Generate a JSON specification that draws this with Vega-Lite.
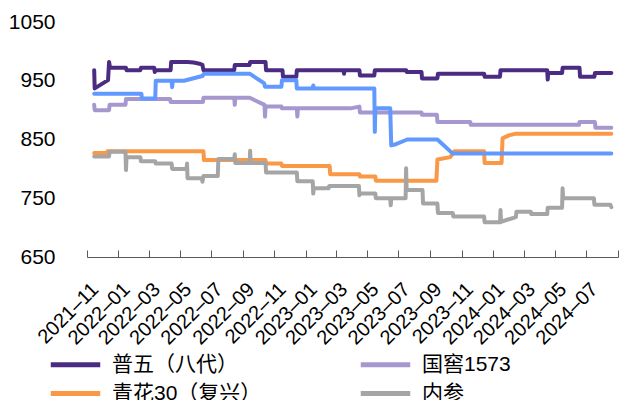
{
  "$schema": "https://vega.github.io/schema/vega-lite/v6.json",
  "width": 531,
  "height": 235,
  "padding": {"left": 8, "top": 11, "right": 0, "bottom": 0},
  "background": "white",
  "config": {
    "view": {"stroke": null},
    "font": "Liberation Sans, Noto Sans CJK SC",
    "axis": {"labelFont": "Liberation Sans, Noto Sans CJK SC", "labelColor": "#000000"},
    "legend": {"labelFont": "Liberation Sans, Noto Sans CJK SC", "labelColor": "#000000"}
  },
  "data": {
    "values": [
      {"s": "普五（八代）", "d": "2021-11-15", "v": 968},
      {"s": "普五（八代）", "d": "2021-11-16", "v": 937},
      {"s": "普五（八代）", "d": "2021-12-12", "v": 951},
      {"s": "普五（八代）", "d": "2021-12-14", "v": 982},
      {"s": "普五（八代）", "d": "2021-12-16", "v": 972},
      {"s": "普五（八代）", "d": "2022-01-16", "v": 972},
      {"s": "普五（八代）", "d": "2022-01-17", "v": 968},
      {"s": "普五（八代）", "d": "2022-02-13", "v": 968},
      {"s": "普五（八代）", "d": "2022-02-14", "v": 972},
      {"s": "普五（八代）", "d": "2022-03-12", "v": 972},
      {"s": "普五（八代）", "d": "2022-03-13", "v": 965},
      {"s": "普五（八代）", "d": "2022-03-15", "v": 968},
      {"s": "普五（八代）", "d": "2022-04-13", "v": 968},
      {"s": "普五（八代）", "d": "2022-04-14", "v": 982},
      {"s": "普五（八代）", "d": "2022-05-16", "v": 982},
      {"s": "普五（八代）", "d": "2022-05-28", "v": 981},
      {"s": "普五（八代）", "d": "2022-06-08", "v": 979},
      {"s": "普五（八代）", "d": "2022-06-14", "v": 977},
      {"s": "普五（八代）", "d": "2022-06-16", "v": 968},
      {"s": "普五（八代）", "d": "2022-08-15", "v": 968},
      {"s": "普五（八代）", "d": "2022-08-16", "v": 977},
      {"s": "普五（八代）", "d": "2022-09-14", "v": 977},
      {"s": "普五（八代）", "d": "2022-09-15", "v": 982},
      {"s": "普五（八代）", "d": "2022-10-15", "v": 982},
      {"s": "普五（八代）", "d": "2022-10-16", "v": 968},
      {"s": "普五（八代）", "d": "2022-11-17", "v": 968},
      {"s": "普五（八代）", "d": "2022-11-18", "v": 957},
      {"s": "普五（八代）", "d": "2022-12-14", "v": 957},
      {"s": "普五（八代）", "d": "2022-12-15", "v": 968},
      {"s": "普五（八代）", "d": "2023-03-16", "v": 968},
      {"s": "普五（八代）", "d": "2023-03-17", "v": 962},
      {"s": "普五（八代）", "d": "2023-03-18", "v": 968},
      {"s": "普五（八代）", "d": "2023-04-16", "v": 968},
      {"s": "普五（八代）", "d": "2023-04-17", "v": 959},
      {"s": "普五（八代）", "d": "2023-05-15", "v": 959},
      {"s": "普五（八代）", "d": "2023-05-16", "v": 968},
      {"s": "普五（八代）", "d": "2023-07-16", "v": 968},
      {"s": "普五（八代）", "d": "2023-07-17", "v": 965},
      {"s": "普五（八代）", "d": "2023-08-15", "v": 965},
      {"s": "普五（八代）", "d": "2023-08-16", "v": 954},
      {"s": "普五（八代）", "d": "2023-09-15", "v": 954},
      {"s": "普五（八代）", "d": "2023-09-16", "v": 962},
      {"s": "普五（八代）", "d": "2023-12-15", "v": 962},
      {"s": "普五（八代）", "d": "2023-12-16", "v": 957},
      {"s": "普五（八代）", "d": "2024-01-15", "v": 957},
      {"s": "普五（八代）", "d": "2024-01-16", "v": 968},
      {"s": "普五（八代）", "d": "2024-04-16", "v": 968},
      {"s": "普五（八代）", "d": "2024-04-17", "v": 952},
      {"s": "普五（八代）", "d": "2024-04-18", "v": 963},
      {"s": "普五（八代）", "d": "2024-05-15", "v": 963},
      {"s": "普五（八代）", "d": "2024-05-16", "v": 972},
      {"s": "普五（八代）", "d": "2024-06-18", "v": 972},
      {"s": "普五（八代）", "d": "2024-06-19", "v": 957},
      {"s": "普五（八代）", "d": "2024-07-17", "v": 957},
      {"s": "普五（八代）", "d": "2024-07-18", "v": 963},
      {"s": "普五（八代）", "d": "2024-08-19", "v": 963},

      {"s": "国窖1573", "d": "2021-11-15", "v": 909},
      {"s": "国窖1573", "d": "2021-11-16", "v": 900},
      {"s": "国窖1573", "d": "2021-12-14", "v": 900},
      {"s": "国窖1573", "d": "2021-12-15", "v": 909},
      {"s": "国窖1573", "d": "2022-01-15", "v": 909},
      {"s": "国窖1573", "d": "2022-01-16", "v": 919},
      {"s": "国窖1573", "d": "2022-04-12", "v": 919},
      {"s": "国窖1573", "d": "2022-04-13", "v": 914},
      {"s": "国窖1573", "d": "2022-06-15", "v": 914},
      {"s": "国窖1573", "d": "2022-06-16", "v": 921},
      {"s": "国窖1573", "d": "2022-08-15", "v": 921},
      {"s": "国窖1573", "d": "2022-08-16", "v": 909},
      {"s": "国窖1573", "d": "2022-08-17", "v": 921},
      {"s": "国窖1573", "d": "2022-09-14", "v": 921},
      {"s": "国窖1573", "d": "2022-10-13", "v": 909},
      {"s": "国窖1573", "d": "2022-10-14", "v": 889},
      {"s": "国窖1573", "d": "2022-10-15", "v": 906},
      {"s": "国窖1573", "d": "2022-11-15", "v": 906},
      {"s": "国窖1573", "d": "2022-11-16", "v": 903},
      {"s": "国窖1573", "d": "2022-12-15", "v": 903},
      {"s": "国窖1573", "d": "2022-12-16", "v": 889},
      {"s": "国窖1573", "d": "2022-12-17", "v": 903},
      {"s": "国窖1573", "d": "2023-03-30", "v": 903},
      {"s": "国窖1573", "d": "2023-04-16", "v": 906},
      {"s": "国窖1573", "d": "2023-04-17", "v": 896},
      {"s": "国窖1573", "d": "2023-08-15", "v": 896},
      {"s": "国窖1573", "d": "2023-08-16", "v": 892},
      {"s": "国窖1573", "d": "2023-09-14", "v": 892},
      {"s": "国窖1573", "d": "2023-09-15", "v": 880},
      {"s": "国窖1573", "d": "2023-11-18", "v": 880},
      {"s": "国窖1573", "d": "2023-11-19", "v": 875},
      {"s": "国窖1573", "d": "2024-06-17", "v": 875},
      {"s": "国窖1573", "d": "2024-06-18", "v": 880},
      {"s": "国窖1573", "d": "2024-07-18", "v": 880},
      {"s": "国窖1573", "d": "2024-07-19", "v": 870},
      {"s": "国窖1573", "d": "2024-08-19", "v": 870},

      {"s": "青花30（复兴）", "d": "2021-11-15", "v": 827},
      {"s": "青花30（复兴）", "d": "2021-12-10", "v": 827},
      {"s": "青花30（复兴）", "d": "2021-12-11", "v": 830},
      {"s": "青花30（复兴）", "d": "2022-06-16", "v": 830},
      {"s": "青花30（复兴）", "d": "2022-06-17", "v": 815},
      {"s": "青花30（复兴）", "d": "2022-10-15", "v": 815},
      {"s": "青花30（复兴）", "d": "2022-10-16", "v": 809},
      {"s": "青花30（复兴）", "d": "2022-11-15", "v": 809},
      {"s": "青花30（复兴）", "d": "2022-11-16", "v": 805},
      {"s": "青花30（复兴）", "d": "2023-02-17", "v": 805},
      {"s": "青花30（复兴）", "d": "2023-02-18", "v": 791},
      {"s": "青花30（复兴）", "d": "2023-04-16", "v": 791},
      {"s": "青花30（复兴）", "d": "2023-04-17", "v": 787},
      {"s": "青花30（复兴）", "d": "2023-05-17", "v": 787},
      {"s": "青花30（复兴）", "d": "2023-05-18", "v": 780},
      {"s": "青花30（复兴）", "d": "2023-09-13", "v": 780},
      {"s": "青花30（复兴）", "d": "2023-09-15", "v": 816},
      {"s": "青花30（复兴）", "d": "2023-10-10", "v": 820},
      {"s": "青花30（复兴）", "d": "2023-10-18", "v": 830},
      {"s": "青花30（复兴）", "d": "2023-12-15", "v": 830},
      {"s": "青花30（复兴）", "d": "2023-12-16", "v": 810},
      {"s": "青花30（复兴）", "d": "2024-01-18", "v": 810},
      {"s": "青花30（复兴）", "d": "2024-01-20", "v": 852},
      {"s": "青花30（复兴）", "d": "2024-02-01", "v": 857},
      {"s": "青花30（复兴）", "d": "2024-02-15", "v": 860},
      {"s": "青花30（复兴）", "d": "2024-08-19", "v": 860},

      {"s": "内参", "d": "2021-11-15", "v": 821},
      {"s": "内参", "d": "2021-12-14", "v": 821},
      {"s": "内参", "d": "2021-12-15", "v": 829},
      {"s": "内参", "d": "2022-01-15", "v": 829},
      {"s": "内参", "d": "2022-01-16", "v": 798},
      {"s": "内参", "d": "2022-01-17", "v": 820},
      {"s": "内参", "d": "2022-02-13", "v": 820},
      {"s": "内参", "d": "2022-02-14", "v": 813},
      {"s": "内参", "d": "2022-03-14", "v": 813},
      {"s": "内参", "d": "2022-03-15", "v": 809},
      {"s": "内参", "d": "2022-04-15", "v": 809},
      {"s": "内参", "d": "2022-04-16", "v": 800},
      {"s": "内参", "d": "2022-05-14", "v": 800},
      {"s": "内参", "d": "2022-05-15", "v": 809},
      {"s": "内参", "d": "2022-05-16", "v": 784},
      {"s": "内参", "d": "2022-06-13", "v": 784},
      {"s": "内参", "d": "2022-06-14", "v": 778},
      {"s": "内参", "d": "2022-06-16", "v": 788},
      {"s": "内参", "d": "2022-07-14", "v": 788},
      {"s": "内参", "d": "2022-07-15", "v": 817},
      {"s": "内参", "d": "2022-08-15", "v": 817},
      {"s": "内参", "d": "2022-08-16", "v": 825},
      {"s": "内参", "d": "2022-08-17", "v": 810},
      {"s": "内参", "d": "2022-09-14", "v": 810},
      {"s": "内参", "d": "2022-09-15", "v": 831},
      {"s": "内参", "d": "2022-09-16", "v": 810},
      {"s": "内参", "d": "2022-10-15", "v": 810},
      {"s": "内参", "d": "2022-10-16", "v": 794},
      {"s": "内参", "d": "2022-12-15", "v": 794},
      {"s": "内参", "d": "2022-12-16", "v": 779},
      {"s": "内参", "d": "2023-01-15", "v": 779},
      {"s": "内参", "d": "2023-01-16", "v": 758},
      {"s": "内参", "d": "2023-01-17", "v": 767},
      {"s": "内参", "d": "2023-02-15", "v": 767},
      {"s": "内参", "d": "2023-02-16", "v": 771},
      {"s": "内参", "d": "2023-04-15", "v": 771},
      {"s": "内参", "d": "2023-04-16", "v": 755},
      {"s": "内参", "d": "2023-04-17", "v": 758},
      {"s": "内参", "d": "2023-05-17", "v": 758},
      {"s": "内参", "d": "2023-05-18", "v": 750},
      {"s": "内参", "d": "2023-06-15", "v": 750},
      {"s": "内参", "d": "2023-06-16", "v": 738},
      {"s": "内参", "d": "2023-06-17", "v": 750},
      {"s": "内参", "d": "2023-07-15", "v": 750},
      {"s": "内参", "d": "2023-07-16", "v": 801},
      {"s": "内参", "d": "2023-07-17", "v": 764},
      {"s": "内参", "d": "2023-08-17", "v": 764},
      {"s": "内参", "d": "2023-08-18", "v": 741},
      {"s": "内参", "d": "2023-09-15", "v": 741},
      {"s": "内参", "d": "2023-09-16", "v": 725},
      {"s": "内参", "d": "2023-10-15", "v": 725},
      {"s": "内参", "d": "2023-10-16", "v": 719},
      {"s": "内参", "d": "2023-12-15", "v": 719},
      {"s": "内参", "d": "2023-12-16", "v": 709},
      {"s": "内参", "d": "2024-01-15", "v": 709},
      {"s": "内参", "d": "2024-01-16", "v": 730},
      {"s": "内参", "d": "2024-01-17", "v": 710},
      {"s": "内参", "d": "2024-02-15", "v": 718},
      {"s": "内参", "d": "2024-02-16", "v": 727},
      {"s": "内参", "d": "2024-03-15", "v": 727},
      {"s": "内参", "d": "2024-03-16", "v": 723},
      {"s": "内参", "d": "2024-04-16", "v": 723},
      {"s": "内参", "d": "2024-04-17", "v": 734},
      {"s": "内参", "d": "2024-05-15", "v": 734},
      {"s": "内参", "d": "2024-05-16", "v": 767},
      {"s": "内参", "d": "2024-05-17", "v": 750},
      {"s": "内参", "d": "2024-07-16", "v": 750},
      {"s": "内参", "d": "2024-07-17", "v": 739},
      {"s": "内参", "d": "2024-08-17", "v": 739},
      {"s": "内参", "d": "2024-08-19", "v": 735},

      {"s": "青花郎", "d": "2021-11-15", "v": 928},
      {"s": "青花郎", "d": "2022-02-15", "v": 928},
      {"s": "青花郎", "d": "2022-02-16", "v": 920},
      {"s": "青花郎", "d": "2022-03-14", "v": 920},
      {"s": "青花郎", "d": "2022-03-15", "v": 950},
      {"s": "青花郎", "d": "2022-04-15", "v": 950},
      {"s": "青花郎", "d": "2022-04-16", "v": 939},
      {"s": "青花郎", "d": "2022-04-17", "v": 950},
      {"s": "青花郎", "d": "2022-05-09", "v": 950},
      {"s": "青花郎", "d": "2022-06-14", "v": 958},
      {"s": "青花郎", "d": "2022-06-17", "v": 962},
      {"s": "青花郎", "d": "2022-09-14", "v": 962},
      {"s": "青花郎", "d": "2022-10-12", "v": 946},
      {"s": "青花郎", "d": "2022-10-14", "v": 940},
      {"s": "青花郎", "d": "2022-11-15", "v": 940},
      {"s": "青花郎", "d": "2022-11-16", "v": 951},
      {"s": "青花郎", "d": "2022-12-14", "v": 951},
      {"s": "青花郎", "d": "2022-12-15", "v": 937},
      {"s": "青花郎", "d": "2023-01-15", "v": 937},
      {"s": "青花郎", "d": "2023-01-16", "v": 942},
      {"s": "青花郎", "d": "2023-01-17", "v": 937},
      {"s": "青花郎", "d": "2023-05-15", "v": 937},
      {"s": "青花郎", "d": "2023-05-16", "v": 863},
      {"s": "青花郎", "d": "2023-05-17", "v": 903},
      {"s": "青花郎", "d": "2023-06-15", "v": 903},
      {"s": "青花郎", "d": "2023-06-17", "v": 840},
      {"s": "青花郎", "d": "2023-06-26", "v": 842},
      {"s": "青花郎", "d": "2023-07-10", "v": 847},
      {"s": "青花郎", "d": "2023-07-18", "v": 850},
      {"s": "青花郎", "d": "2023-09-15", "v": 850},
      {"s": "青花郎", "d": "2023-10-15", "v": 826},
      {"s": "青花郎", "d": "2024-08-19", "v": 826}
    ]
  },
  "mark": {"type": "line", "strokeWidth": 4, "strokeCap": "round", "strokeJoin": "round", "interpolate": "linear"},
  "encoding": {
    "x": {
      "field": "d",
      "type": "temporal",
      "scale": {
        "domain": [{"year": 2021, "month": 11, "date": 1}, {"year": 2024, "month": 9, "date": 1}],
        "nice": false
      },
      "axis": {
        "title": null,
        "grid": false,
        "values": [
          {"year": 2021, "month": 11, "date": 1},
          {"year": 2022, "month": 1, "date": 1},
          {"year": 2022, "month": 3, "date": 1},
          {"year": 2022, "month": 5, "date": 1},
          {"year": 2022, "month": 7, "date": 1},
          {"year": 2022, "month": 9, "date": 1},
          {"year": 2022, "month": 11, "date": 1},
          {"year": 2023, "month": 1, "date": 1},
          {"year": 2023, "month": 3, "date": 1},
          {"year": 2023, "month": 5, "date": 1},
          {"year": 2023, "month": 7, "date": 1},
          {"year": 2023, "month": 9, "date": 1},
          {"year": 2023, "month": 11, "date": 1},
          {"year": 2024, "month": 1, "date": 1},
          {"year": 2024, "month": 3, "date": 1},
          {"year": 2024, "month": 5, "date": 1},
          {"year": 2024, "month": 7, "date": 1},
          {"year": 2024, "month": 9, "date": 1}
        ],
        "labelExpr": "datum.value >= datetime(2024, 7, 15) ? '' : timeFormat(datum.value, '%Y–%m')",
        "labelAngle": -45,
        "labelAlign": "right",
        "labelBaseline": "middle",
        "labelFontSize": 20,
        "labelOffset": 8,
        "labelPadding": 36,
        "labelOverlap": false,
        "labelBound": false,
        "labelFlush": false,
        "domainColor": "#595959",
        "domainWidth": 1,
        "tickColor": "#595959",
        "tickWidth": 1,
        "tickSize": -7
      }
    },
    "y": {
      "field": "v",
      "type": "quantitative",
      "scale": {"domain": [650, 1050], "nice": false, "zero": false},
      "axis": {
        "title": null,
        "grid": false,
        "domain": false,
        "ticks": false,
        "format": "d",
        "values": [650, 750, 850, 950, 1050],
        "labelFontSize": 21,
        "labelPadding": 32
      }
    },
    "color": {
      "field": "s",
      "type": "nominal",
      "scale": {
        "domain": ["普五（八代）", "国窖1573", "青花30（复兴）", "内参", "青花郎"],
        "range": ["#4B2C82", "#A697CF", "#FA9846", "#A5A5A5", "#6199FF"]
      },
      "legend": {
        "title": null,
        "orient": "none",
        "direction": "horizontal",
        "legendX": -22,
        "legendY": 332,
        "columns": 2,
        "symbolType": "M-4.5,0H4.5",
        "symbolSize": 121,
        "symbolStrokeWidth": 5,
        "symbolStrokeCap": "round",
        "labelFontSize": 21,
        "labelOffset": 26,
        "labelLimit": 300,
        "columnPadding": 88,
        "rowPadding": 7
      }
    }
  }
}
